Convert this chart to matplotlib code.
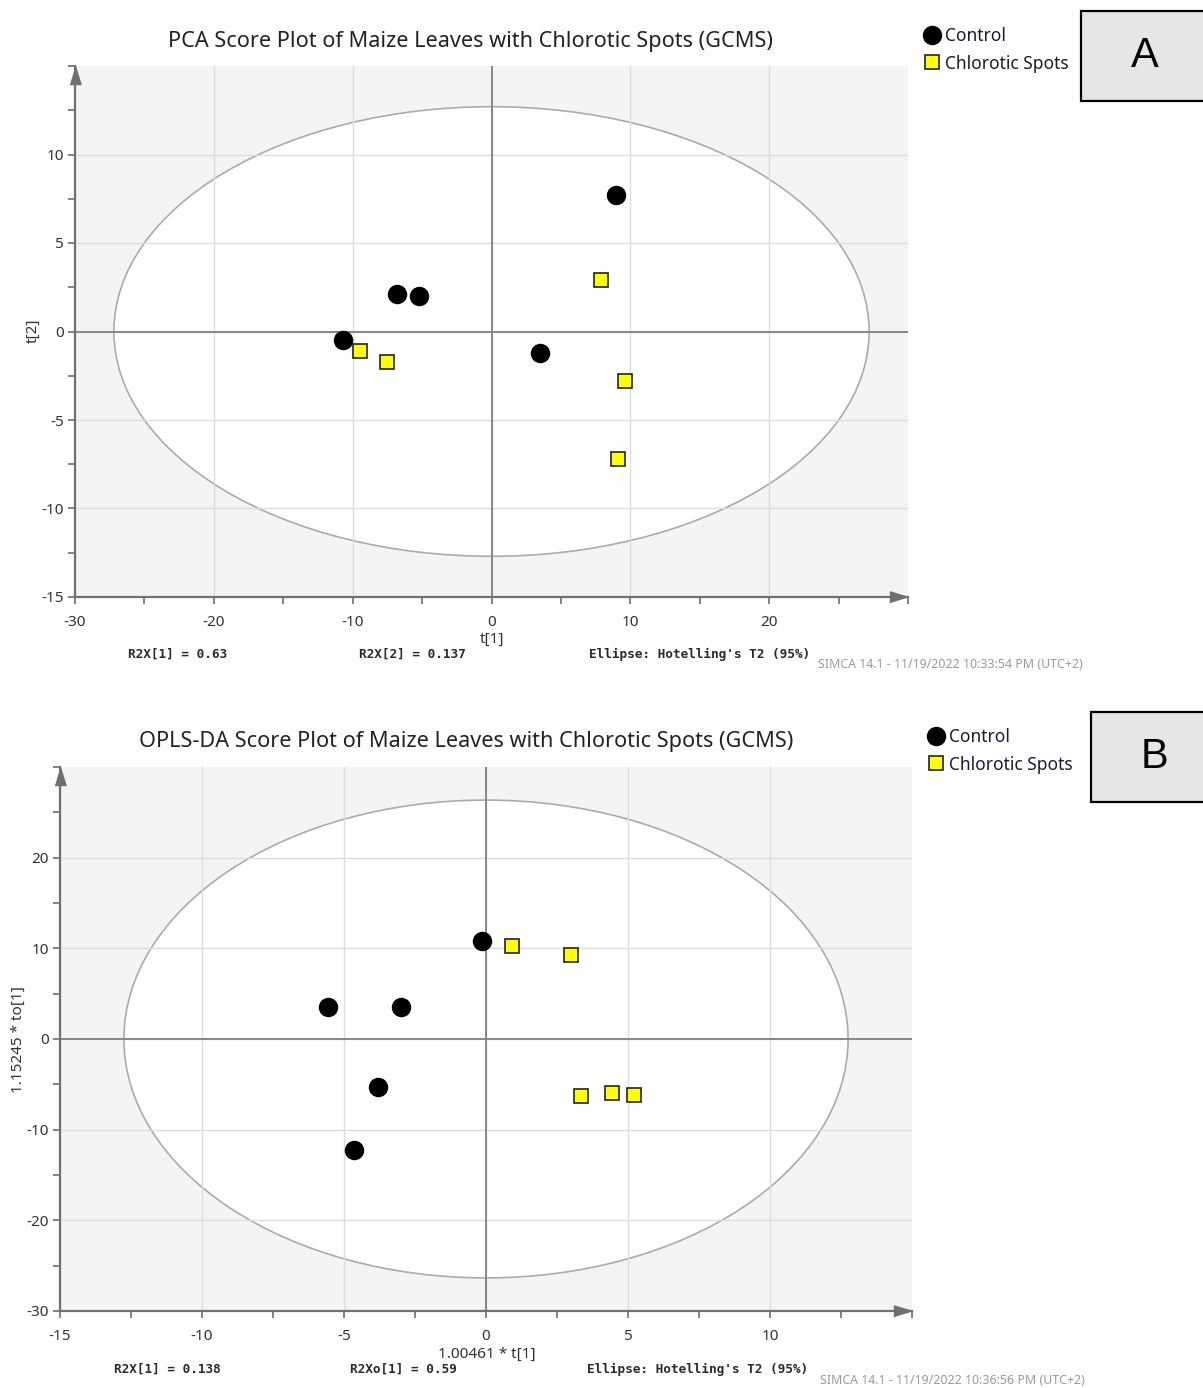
import matplotlib
matplotlib.use("Agg")
import matplotlib.pyplot as plt
import matplotlib.patches as mpatches
import matplotlib.transforms as mtrans
from matplotlib.ticker import MultipleLocator

W, H = 1203, 1388
plt.rcParams['font.family'] = ['Noto Sans', 'DejaVu Sans']
plt.rcParams['axes.unicode_minus'] = False

groups = ['Control', 'Chlorotic Spots']

# Panel A - PCA scores
pca_ctrl_t1 = [9.0, -6.8, -5.2, -10.7, 3.5]
pca_ctrl_t2 = [7.7, 2.1, 2.0, -0.5, -1.2]
pca_chl_t1 = [7.9, -9.5, -7.5, 9.6, 9.1]
pca_chl_t2 = [2.9, -1.1, -1.75, -2.8, -7.2]
pca_ellipse = (27.2, 12.7)   # Hotelling T2 semi-axes
pca_xlim, pca_ylim = (-30, 30), (-15, 15)
pca_xticks = [-30, -20, -10, 0, 10, 20]
pca_yticks = [-15, -10, -5, 0, 5, 10]

# Panel B - OPLS-DA scores
opls_ctrl_t1 = [-0.15, -5.55, -3.0, -3.8, -4.65]
opls_ctrl_to1 = [10.8, 3.5, 3.5, -5.3, -12.2]
opls_chl_t1 = [0.9, 3.0, 3.35, 4.45, 5.2]
opls_chl_to1 = [10.3, 9.3, -6.3, -6.0, -6.2]
opls_ellipse = (12.75, 26.35)
opls_xlim, opls_ylim = (-15, 15), (-30, 30)
opls_xticks = [-15, -10, -5, 0, 5, 10]
opls_yticks = [-30, -20, -10, 0, 10, 20]

fig = plt.figure(figsize=(W / 100, H / 100), dpi=100)


def fx(x):
    return x / W


def fy(y):
    return 1 - y / H


def score_panel(box, xs, ys, ell, xlim, ylim, xticks, yticks):
    l, t, r, b = box
    ax = fig.add_axes([fx(l), fy(b), (r - l) / W, (b - t) / H])
    ax.set_facecolor('#f4f4f4')
    ax.set_xlim(*xlim)
    ax.set_ylim(*ylim)
    ax.set_axisbelow('line')
    ax.add_patch(mpatches.Ellipse((0, 0), 2 * ell[0], 2 * ell[1], fc='white',
                                  ec='#ababab', lw=1.2, zorder=1))
    ax.set_xticks(xticks)
    ax.set_yticks(yticks)
    xstep = xticks[1] - xticks[0]
    ystep = yticks[1] - yticks[0]
    ax.xaxis.set_minor_locator(MultipleLocator(xstep / 2))
    ax.yaxis.set_minor_locator(MultipleLocator(ystep / 2))
    ax.grid(True, which='major', color='#dddddd', lw=1)
    ax.axhline(0, color='#808080', lw=1.3, zorder=1.8)
    ax.axvline(0, color='#808080', lw=1.3, zorder=1.8)
    for s in ['top', 'right']:
        ax.spines[s].set_visible(False)
    for s in ['left', 'bottom']:
        ax.spines[s].set_color('#707070')
        ax.spines[s].set_linewidth(1.6)
    ax.tick_params(which='both', direction='out', length=5, width=1.2,
                   color='#707070', labelcolor='#333333', labelsize=11)
    ax.tick_params(axis='x', pad=8)
    ax.tick_params(axis='y', pad=3)
    # axis arrows
    up = mtrans.offset_copy(ax.transAxes, fig=fig, y=-9, units='dots')
    ax.plot([0], [1], transform=up, clip_on=False, color='#707070', ls='none',
            marker=[(-5.5, -9), (5.5, -9), (0, 9)], ms=13, zorder=5)
    rt = mtrans.offset_copy(ax.transAxes, fig=fig, x=-9, units='dots')
    ax.plot([1], [0], transform=rt, clip_on=False, color='#707070', ls='none',
            marker=[(-9, -5.5), (-9, 5.5), (9, 0)], ms=13, zorder=5)
    ax.plot(xs[0], ys[0], 'o', color='black', ms=13, ls='none', zorder=4,
            label=groups[0])
    ax.plot(xs[1], ys[1], 's', mfc='#ffff00', mec='#222222', mew=1.2, ms=10.5,
            ls='none', zorder=4, label=groups[1])
    return ax


axA = score_panel((75, 66, 908, 597), (pca_ctrl_t1, pca_chl_t1),
                  (pca_ctrl_t2, pca_chl_t2), pca_ellipse, pca_xlim, pca_ylim,
                  pca_xticks, pca_yticks)
axB = score_panel((60, 767, 912, 1311), (opls_ctrl_t1, opls_chl_t1),
                  (opls_ctrl_to1, opls_chl_to1), opls_ellipse, opls_xlim, opls_ylim,
                  opls_xticks, opls_yticks)

txt = dict(color='#222222')
# titles
fig.text(fx(471), fy(41), 'PCA Score Plot of Maize Leaves with Chlorotic Spots (GCMS)',
         ha='center', va='center', fontsize=15.6, **txt)
fig.text(fx(466), fy(741), 'OPLS-DA Score Plot of Maize Leaves with Chlorotic Spots (GCMS)',
         ha='center', va='center', fontsize=15.6, **txt)

# axis labels
fig.text(fx(492), fy(639), 't[1]', ha='center', va='center', fontsize=11, color='#333333')
fig.text(fx(33), fy(331), 't[2]', ha='center', va='center', fontsize=11,
         rotation=90, color='#333333')
fig.text(fx(487), fy(1354), '1.00461 * t[1]', ha='center', va='center', fontsize=11,
         color='#333333')
fig.text(fx(18), fy(1040), '1.15245 * to[1]', ha='center', va='center', fontsize=11,
         rotation=90, color='#333333')

# footer statistics
mono = dict(family='DejaVu Sans Mono', fontsize=9.2, color='#2a2a2a', va='center',
            ha='left', weight='bold')
fig.text(fx(128), fy(654), 'R2X[1] = 0.63', **mono)
fig.text(fx(359), fy(654), 'R2X[2] = 0.137', **mono)
fig.text(fx(589), fy(654), "Ellipse: Hotelling's T2 (95%)", **mono)
fig.text(fx(114), fy(1369), 'R2X[1] = 0.138', **mono)
fig.text(fx(350), fy(1369), 'R2Xo[1] = 0.59', **mono)
fig.text(fx(587), fy(1369), "Ellipse: Hotelling's T2 (95%)", **mono)

simca = dict(fontsize=8.9, color='#9a9a9a', va='center', ha='left')
fig.text(fx(818), fy(665), 'SIMCA 14.1 - 11/19/2022 10:33:54 PM (UTC+2)', **simca)
fig.text(fx(820), fy(1381), 'SIMCA 14.1 - 11/19/2022 10:36:56 PM (UTC+2)', **simca)

# legends
for ax, lx, ly in [(axA, 924, 27), (axB, 928, 728)]:
    ax.legend(loc='upper left', bbox_to_anchor=(fx(lx), fy(ly)),
              bbox_transform=fig.transFigure, frameon=False, fontsize=12.5,
              handlelength=0.9, handletextpad=0.3, labelspacing=0.55,
              borderpad=0, borderaxespad=0, labelcolor='#1a1a33')

# panel letters
for (l, t, r, b), letter in [((1081, 11, 1210, 101), 'A'), ((1091, 712, 1210, 802), 'B')]:
    fig.add_artist(mpatches.Rectangle((fx(l), fy(b)), (r - l) / W, (b - t) / H,
                                      transform=fig.transFigure, fc='#e6e6e6',
                                      ec='black', lw=1.6))
    fig.text(fx(l + 64), fy((t + b) / 2), letter, ha='center', va='center',
             fontsize=30, family='Liberation Sans', color='black')

fig.savefig('out.png', dpi=100)
